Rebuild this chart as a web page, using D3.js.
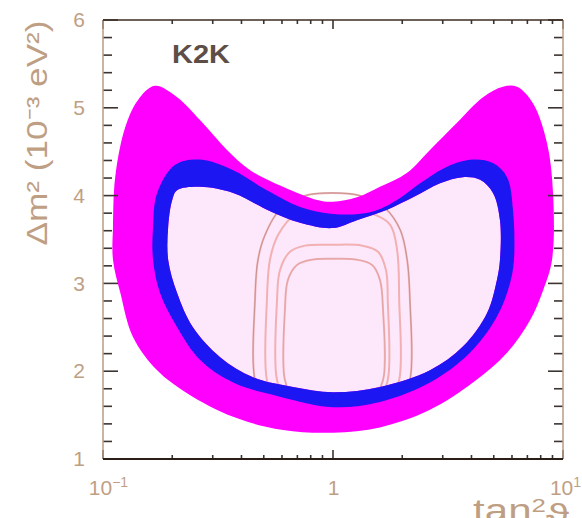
<!DOCTYPE html>
<html>
<head>
<meta charset="utf-8">
<script src="https://cdn.jsdelivr.net/npm/d3@7"></script>
<style>
  body { margin: 0; background: #fff; }
  svg { display: block; }
  text { font-family: "Liberation Sans", Arial, Helvetica, sans-serif; }
</style>
</head>
<body>
<div id="chart"></div>
<script>
// allowed regions, [tan^2 theta, dm^2 (1e-3 eV^2)]
const outerBand = [
  [0.168,5.25],[0.210,5.12],[0.264,4.86],[0.346,4.52],[0.436,4.29],[0.606,4.10],[0.852,3.95],[1.0,3.93],
  [1.27,3.98],[1.60,4.10],[2.10,4.26],[2.64,4.52],[3.46,4.83],[4.49,5.12],[5.48,5.24],[6.31,5.24],
  [7.41,5.05],[8.52,4.60],[9.05,4.03],[8.96,3.27],[8.19,2.92],[7.19,2.58],[5.71,2.21],[4.06,1.87],
  [2.64,1.56],[1.60,1.36],[1.0,1.30],[0.606,1.33],[0.368,1.48],[0.232,1.75],[0.172,2.01],[0.135,2.39],
  [0.119,2.89],[0.1105,3.27],[0.1105,3.64],[0.113,4.21],[0.125,4.78],[0.142,5.09]
];
const blueBand = [
  [0.206,4.35],[0.264,4.41],[0.368,4.29],[0.516,4.06],[0.719,3.87],[1.0,3.79],[1.45,3.81],[1.90,3.95],
  [2.39,4.14],[3.13,4.33],[4.06,4.41],[4.96,4.37],[5.71,4.21],[6.06,3.84],[6.12,3.27],[5.88,3.00],
  [5.16,2.62],[3.94,2.21],[2.64,1.87],[1.60,1.65],[1.0,1.59],[0.588,1.71],[0.368,1.87],[0.264,2.13],
  [0.210,2.50],[0.177,2.89],[0.165,3.27],[0.165,3.64],[0.172,4.03]
];
const innerRegion = [
  [0.210,4.06],[0.264,4.10],[0.368,4.03],[0.516,3.84],[0.719,3.69],[1.0,3.63],[1.27,3.72],[1.72,3.84],
  [2.23,3.98],[2.92,4.14],[3.67,4.21],[4.36,4.18],[4.96,4.03],[5.32,3.72],[5.32,3.27],[5.16,3.04],
  [4.67,2.66],[3.67,2.28],[2.64,2.01],[1.60,1.82],[1.0,1.76],[0.670,1.82],[0.449,1.93],[0.323,2.16],
  [0.246,2.50],[0.210,2.89],[0.192,3.27],[0.192,3.64],[0.200,3.95]
];
// thin contours drawn inside
const contour1 = [[0.458,1.90],[0.458,2.81],[0.472,3.27],[0.506,3.55],[0.588,3.84],[0.756,4.00],[1.0,4.03],[1.31,4.00],
  [1.68,3.86],[1.96,3.61],[2.10,3.27],[2.16,2.81],[2.16,1.90],[1.96,1.67],[1.0,1.62],[0.506,1.67]];
const contour2 = [[0.516,1.90],[0.516,2.81],[0.532,3.27],[0.577,3.55],[0.684,3.78],[1.0,3.84],[1.45,3.80],[1.77,3.67],
  [1.90,3.38],[1.94,2.81],[1.94,1.90],[1.77,1.69],[1.0,1.65],[0.560,1.69]];
const contour3 = [[0.571,1.90],[0.571,2.81],[0.588,3.15],[0.650,3.36],[0.756,3.43],[1.0,3.44],[1.34,3.43],[1.57,3.36],
  [1.70,3.15],[1.73,2.81],[1.73,1.90],[1.60,1.72],[1.0,1.67],[0.618,1.72]];
const contour4 = [[0.618,1.90],[0.618,2.70],[0.637,3.04],[0.697,3.21],[0.810,3.27],[1.0,3.28],[1.27,3.27],[1.48,3.21],
  [1.60,3.04],[1.65,2.70],[1.65,1.90],[1.52,1.75],[1.0,1.71],[0.663,1.75]];

const yMajor = [1, 2, 3, 4, 5, 6];
const yMinor = [1.2,1.4,1.6,1.8,2.2,2.4,2.6,2.8,3.2,3.4,3.6,3.8,4.2,4.4,4.6,4.8,5.2,5.4,5.6,5.8];
const xMajor = [0.1, 1, 10];
const xMinor = [0.2,0.3,0.4,0.5,0.6,0.7,0.8,0.9,2,3,4,5,6,7,8,9];

const width = 582, height = 518;
const margin = { top: 20, right: 19, bottom: 59, left: 103 };

const svg = d3.select('#chart').append('svg')
  .attr('width', width).attr('height', height);

const x = d3.scaleLog().domain([0.1, 10]).range([margin.left, width - margin.right]);
const y = d3.scaleLinear().domain([1, 6]).range([height - margin.bottom, margin.top]);

const line = d3.line().x(d => x(d[0])).y(d => y(d[1])).curve(d3.curveCatmullRomClosed.alpha(0.5));

const defs = svg.append('defs');
defs.append('filter').attr('id', 'soft')
  .append('feGaussianBlur').attr('stdDeviation', 0.7);

const plot = svg.append('g').attr('filter', 'url(#soft)');

plot.append('path').attr('d', line(innerRegion)).attr('fill', '#fce8fa');

const contours = [contour1, contour2, contour3, contour4];
plot.selectAll('.contour').data(contours).join('path')
  .attr('class', 'contour')
  .attr('d', d => line(d))
  .attr('fill', 'none')
  .attr('stroke', '#f2b0b2')
  .attr('stroke-width', 2);
plot.selectAll('.contour-dark').data([contour1, contour4]).join('path')
  .attr('class', 'contour-dark')
  .attr('d', d => line(d))
  .attr('fill', 'none')
  .attr('stroke', '#6e5e58')
  .attr('stroke-opacity', (d, i) => i === 0 ? 0.5 : 0.2)
  .attr('stroke-width', 0.7);

plot.append('path')
  .attr('d', line(outerBand) + line(innerRegion))
  .attr('fill', '#ff00ff')
  .attr('fill-rule', 'evenodd');
plot.append('path')
  .attr('d', line(blueBand) + line(innerRegion))
  .attr('fill', '#1f14f2')
  .attr('fill-rule', 'evenodd');

const x0 = margin.left, x1 = width - margin.right, y0 = height - margin.bottom, y1 = margin.top;
const tickColor = '#3c3430';

// ticks pointing inward on all four sides
const ticks = svg.append('g').attr('stroke', tickColor).attr('stroke-width', 1.6);
function yTicks(vals, len) {
  ticks.append('g').selectAll('line').data(vals).join('line')
    .attr('x1', x0).attr('x2', x0 + len).attr('y1', d => y(d)).attr('y2', d => y(d));
  ticks.append('g').selectAll('line').data(vals).join('line')
    .attr('x1', x1).attr('x2', x1 - len).attr('y1', d => y(d)).attr('y2', d => y(d));
}
function xTicks(vals, len) {
  ticks.append('g').selectAll('line').data(vals).join('line')
    .attr('x1', d => x(d)).attr('x2', d => x(d)).attr('y1', y0).attr('y2', y0 - len);
  ticks.append('g').selectAll('line').data(vals).join('line')
    .attr('x1', d => x(d)).attr('x2', d => x(d)).attr('y1', y1).attr('y2', y1 + len);
}
yTicks(yMinor, 9);
yTicks(yMajor, 15);
xTicks(xMinor, 4);
xTicks(xMajor, 9);

// frame
svg.append('line').attr('x1', x0).attr('x2', x0).attr('y1', y1).attr('y2', y0).attr('stroke', '#b89c86').attr('stroke-width', 1.5);
svg.append('line').attr('x1', x1).attr('x2', x1).attr('y1', y1).attr('y2', y0).attr('stroke', '#b89c86').attr('stroke-width', 1.5);
svg.append('line').attr('x1', x0).attr('x2', x1).attr('y1', y1).attr('y2', y1).attr('stroke', '#3a2c22').attr('stroke-width', 1.5);
svg.append('line').attr('x1', x0).attr('x2', x1).attr('y1', y0).attr('y2', y0).attr('stroke', '#2a1e16').attr('stroke-width', 2);

const labelColor = '#bf9f84';

// y tick labels
const yLab = svg.append('g').attr('transform', `translate(${x0},0)`)
  .call(d3.axisLeft(y).tickValues(yMajor).tickSize(0).tickPadding(18).tickFormat(d3.format('d')));
yLab.select('.domain').remove();
yLab.selectAll('text').attr('fill', labelColor).style('font-size', '21px')
  .style('font-family', '"Liberation Sans", Arial, sans-serif');

// x tick labels
const xLab = svg.append('g').attr('transform', `translate(0,${y0})`)
  .call(d3.axisBottom(x).tickValues(xMajor).tickSize(0).tickPadding(21).tickFormat(''));
xLab.select('.domain').remove();
xLab.selectAll('text').each(function(d) {
  const t = d3.select(this).attr('fill', labelColor).style('font-size', '21px')
    .style('font-family', '"Liberation Sans", Arial, sans-serif');
  if (d === 1) { t.text('1'); return; }
  t.attr('dx', d === 0.1 ? 5 : 2);
  t.append('tspan').text('10');
  t.append('tspan').attr('dy', '-0.55em').style('font-size', '14px').text(d === 0.1 ? '\u22121' : '1');
});

// axis titles
svg.append('text')
  .attr('transform', 'translate(47,133) rotate(-90)')
  .attr('text-anchor', 'middle')
  .attr('fill', labelColor)
  .attr('textLength', 225)
  .attr('lengthAdjust', 'spacingAndGlyphs')
  .style('font-size', '29px')
  .text('\u0394m\u00b2 (10\u207b\u00b3 eV\u00b2)');

const xt = svg.append('text')
  .attr('x', 521).attr('y', 521)
  .attr('text-anchor', 'middle')
  .attr('fill', labelColor)
  .attr('textLength', 96)
  .attr('lengthAdjust', 'spacingAndGlyphs')
  .style('font-size', '31px');
xt.append('tspan').text('tan');
xt.append('tspan').attr('dy', '-0.45em').style('font-size', '19px').text('2');
xt.append('tspan').attr('dy', '0.45em').text('\u03d1');

svg.append('text')
  .attr('x', 172).attr('y', 63)
  .attr('fill', '#5e4e46')
  .attr('textLength', 58)
  .attr('lengthAdjust', 'spacingAndGlyphs')
  .style('font-size', '25px')
  .style('font-weight', 'bold')
  .text('K2K');
</script>
</body>
</html>
